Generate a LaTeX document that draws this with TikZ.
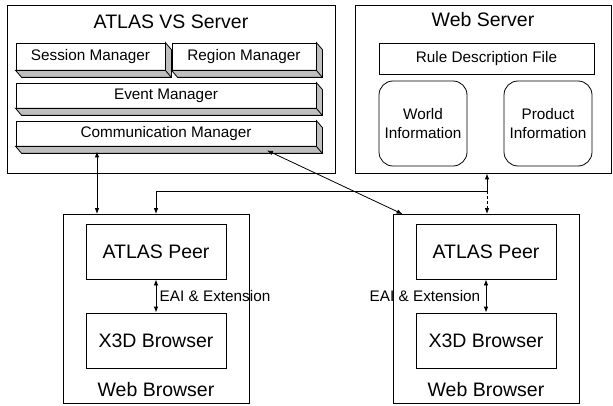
\documentclass[tikz,border=0pt]{standalone}
\usepackage{fontspec}
\setmainfont{Liberation Sans}
\usetikzlibrary{arrows.meta}
\newcommand{\bigtxt}{\fontsize{19.5}{22}\selectfont}
\newcommand{\smalltxt}{\fontsize{15.3}{18.5}\selectfont}

\begin{document}
\begin{tikzpicture}[x=1pt,y=-1pt,
  frame/.style={draw,line width=0.8pt,inner sep=0pt},
  slab/.style={frame,fill=white,font=\smalltxt},
  infobox/.style={frame,rounded corners=14pt,align=center,font=\smalltxt,minimum width=88pt,minimum height=85pt},
  peerbox/.style={frame,font=\bigtxt,minimum width=140pt,minimum height=55pt},
  tip/.style={line width=0.8pt},
  link/.style={tip,{Latex[length=6pt,width=4.5pt]}-{Latex[length=6pt,width=4.5pt]}}]
\useasboundingbox (0,0) rectangle (613,406);

% ATLAS VS server
\node[frame,minimum width=328pt,minimum height=168pt] (atlas) at (171,89) {};
\node[font=\bigtxt] (atlastitle) at (171,22) {ATLAS VS Server};
\node[slab,minimum width=149pt,minimum height=27pt] (session) at (90.5,56.5) {Session Manager};
\node[slab,minimum width=144pt,minimum height=27pt] (region) at (244,56.5) {Region Manager};
\node[slab,minimum width=300pt,minimum height=25pt] (event) at (166,95.5) {Event Manager};
\node[slab,minimum width=300pt,minimum height=25pt] (comm) at (166,133.5) {Communication Manager};
\foreach \n in {session,region,event,comm}
{ \filldraw[tip,fill=gray!50] (\n.north east) -- ([shift={(6pt,-7pt)}]\n.north east)
    -- ([shift={(6pt,-7pt)}]\n.south east) -- ([shift={(6pt,-7pt)}]\n.south west)
    -- (\n.south west) -- (\n.south east) -- cycle;
  \draw[tip] (\n.south east) -- ([shift={(6pt,-7pt)}]\n.south east);}

% web server
\node[frame,minimum width=256pt,minimum height=168pt] (websrv) at (483,89) {};
\node[font=\bigtxt] (webtitle) at (483,20) {Web Server};
\node[frame,font=\smalltxt,minimum width=215pt,minimum height=31pt] (rule) at (486.5,58.5) {Rule Description File};
\node[infobox] (world) at (423,123.5) {World\\Information};
\node[infobox] (product) at (548,123.5) {Product\\Information};

% web browsers
\foreach \side/\cx in {L/156,R/486}
{ \node[frame,minimum width=186pt,minimum height=189pt] (br\side) at (\cx,309) {};
  \node[peerbox] (peer\side) at (\cx,251.5) {ATLAS Peer};
  \node[peerbox] (x3d\side) at (\cx,340.5) {X3D Browser};
  \node[font=\bigtxt] (wb\side) at (\cx,390) {Web Browser};}
\draw[link] (peerL) -- node[right,font=\smalltxt]{EAI \& Extension} (x3dL);
\draw[link] (peerR) -- node[left,font=\smalltxt,xshift=-2pt]{EAI \& Extension} (x3dR);

% connections
\coordinate (junc) at (487,191);
\draw[link] ([xshift=-59pt]brL.north) -- ([xshift=-69pt,yshift=-5pt]comm.south);
\draw[link] ([xshift=101pt,yshift=-4pt]comm.south) -- ([xshift=10pt]brR.north west);
\draw[tip,{Latex[length=6pt,width=4.5pt]}-] ([xshift=4pt]websrv.south) -- (junc);
\draw[tip,dash pattern=on 3pt off 2pt,-{Latex[length=6pt,width=4.5pt]}] (junc) -- ([xshift=1pt]brR.north);
\draw[tip,-{Latex[length=6pt,width=4.5pt]}] (junc) -| (brL.north);
\end{tikzpicture}
\end{document}
